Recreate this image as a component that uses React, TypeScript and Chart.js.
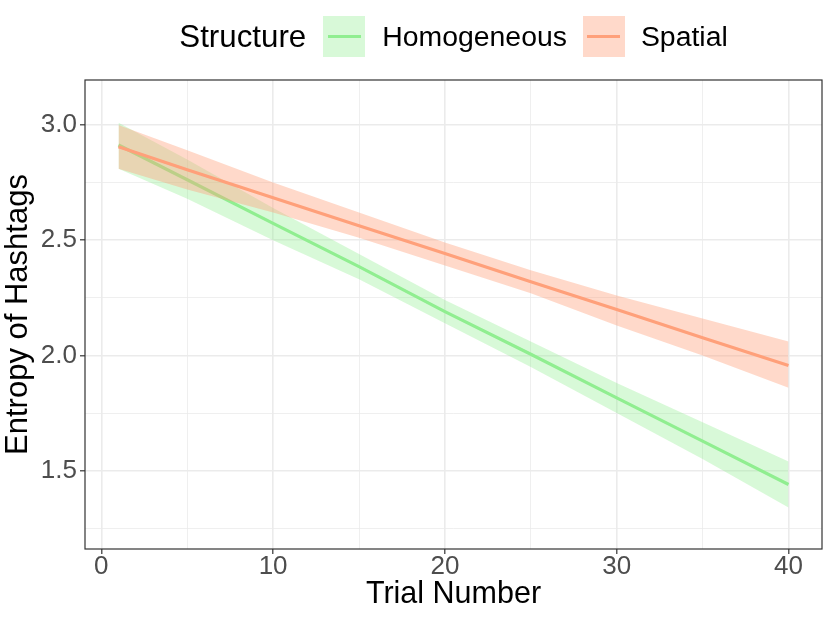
import { Chart, registerables } from "chart.js"
import { useEffect, useRef } from "react"

Chart.register(...registerables)

// values
const trialNumbers = [1, 5, 10, 15, 20, 25, 30, 35, 40]

const homogeneousFit = [2.913, 2.762, 2.573, 2.385, 2.19, 2.005, 1.816, 1.628, 1.44]
const homogeneousLower = [2.81, 2.68, 2.5, 2.33, 2.14, 1.95, 1.75, 1.55, 1.34]
const homogeneousUpper = [3.01, 2.85, 2.64, 2.44, 2.24, 2.06, 1.88, 1.71, 1.54]

const spatialFit = [2.905, 2.806, 2.684, 2.563, 2.442, 2.32, 2.199, 2.077, 1.956]
const spatialLower = [2.81, 2.72, 2.62, 2.51, 2.39, 2.27, 2.13, 2.0, 1.86]
const spatialUpper = [3.0, 2.89, 2.75, 2.62, 2.49, 2.37, 2.26, 2.16, 2.06]

const xTickValues = [0, 5, 10, 15, 20, 25, 30, 35, 40]
const xTickLabels = ["0", "", "10", "", "20", "", "30", "", "40"]
const yTickValues = [1.25, 1.5, 1.75, 2.0, 2.25, 2.5, 2.75, 3.0]
const yTickLabels = ["", "1.5", "", "2.0", "", "2.5", "", "3.0"]

const GREEN = "rgb(144, 238, 144)"
const GREEN_FILL = "rgba(144, 238, 144, 0.35)"
const SALMON = "rgb(255, 160, 122)"
const SALMON_FILL = "rgba(255, 160, 122, 0.4)"
const FONT = "'Liberation Sans', Arial, sans-serif"

const toPoints = (ys: number[]) => trialNumbers.map((x, i) => ({ x, y: ys[i] }))

const panelBorder = {
	id: "panelBorder",
	afterDatasetsDraw(chart: Chart) {
		const { ctx, chartArea } = chart
		ctx.save()
		ctx.strokeStyle = "#333333"
		ctx.lineWidth = 1.2
		ctx.strokeRect(chartArea.left, chartArea.top, chartArea.right - chartArea.left, chartArea.bottom - chartArea.top)
		ctx.restore()
	},
}

function LegendKey({ fill, line }: { fill: string; line: string }) {
	return (
		<div
			style={{
				width: 42,
				height: 41,
				background: fill,
				display: "flex",
				alignItems: "center",
				justifyContent: "center",
			}}
		>
			<div style={{ width: 33, height: 3, background: line }} />
		</div>
	)
}

export default function App() {
	const chartRef = useRef<HTMLCanvasElement>(null)
	const chartInstance = useRef<Chart | null>(null)

	useEffect(() => {
		if (!chartRef.current) return
		if (chartInstance.current) chartInstance.current.destroy()

		const ribbon = (ys: number[], color: string, target?: number) => ({
			data: toPoints(ys),
			borderWidth: 0,
			pointRadius: 0,
			backgroundColor: color,
			fill: target === undefined ? false : target,
		})

		const line = (ys: number[], color: string) => ({
			data: toPoints(ys),
			borderColor: color,
			borderWidth: 3.2,
			pointRadius: 0,
			fill: false,
		})

		// first dataset is drawn on top, so the order is reversed from ggplot's
		chartInstance.current = new Chart(chartRef.current, {
			type: "line",
			data: {
				datasets: [
					line(spatialFit, SALMON),
					ribbon(spatialUpper, SALMON_FILL, 2),
					ribbon(spatialLower, SALMON_FILL),
					line(homogeneousFit, GREEN),
					ribbon(homogeneousUpper, GREEN_FILL, 5),
					ribbon(homogeneousLower, GREEN_FILL),
				] as any,
			},
			options: {
				animation: false,
				responsive: false,
				layout: { padding: { top: 80, right: 8, left: 0, bottom: 0 } },
				plugins: {
					legend: { display: false },
					tooltip: { enabled: false },
				},
				scales: {
					x: {
						type: "linear",
						min: -0.95,
						max: 41.95,
						afterBuildTicks: (scale: any) => {
							scale.ticks = xTickValues.map((value) => ({ value }))
						},
						afterFit: (scale: any) => {
							scale.height = 74
						},
						ticks: {
							callback: (_v: any, i: number) => xTickLabels[i],
							color: "#4D4D4D",
							font: { family: FONT, size: 26, lineHeight: 1 },
							padding: 0,
							maxRotation: 0,
							autoSkip: false,
						},
						grid: {
							color: "#EBEBEB",
							lineWidth: (c: any) => (xTickLabels[c.index] ? 1.6 : 0.8),
							tickColor: (c: any) => (xTickLabels[c.index] ? "#333333" : "rgba(0,0,0,0)"),
							tickLength: 5,
							tickWidth: 1.2,
						},
						border: { display: false },
						title: {
							display: true,
							text: "Trial Number",
							color: "#000000",
							font: { family: FONT, size: 30.5, lineHeight: 1 },
							padding: { top: 0, bottom: 13 },
						},
					},
					y: {
						type: "linear",
						min: 1.16,
						max: 3.195,
						afterBuildTicks: (scale: any) => {
							scale.ticks = yTickValues.map((value) => ({ value }))
						},
						afterFit: (scale: any) => {
							scale.width = 85
						},
						ticks: {
							callback: (_v: any, i: number) => yTickLabels[i],
							color: "#4D4D4D",
							font: { family: FONT, size: 26, lineHeight: 1 },
							padding: 3,
							autoSkip: false,
						},
						grid: {
							color: "#EBEBEB",
							lineWidth: (c: any) => (yTickLabels[c.index] ? 1.6 : 0.8),
							tickColor: (c: any) => (yTickLabels[c.index] ? "#333333" : "rgba(0,0,0,0)"),
							tickLength: 5,
							tickWidth: 1.2,
						},
						border: { display: false },
						title: {
							display: true,
							text: "Entropy of Hashtags",
							color: "#000000",
							font: { family: FONT, size: 31, lineHeight: 1 },
							padding: { top: 3, bottom: 0 },
						},
					},
				},
			},
			plugins: [panelBorder],
		})

		return () => {
			if (chartInstance.current) {
				chartInstance.current.destroy()
				chartInstance.current = null
			}
		}
	}, [])

	return (
		<div style={{ position: "absolute", left: 0, top: 0, width: 830, height: 623, background: "#fff" }}>
			<canvas ref={chartRef} width={830} height={623} style={{ position: "absolute", left: 0, top: 0 }} />
			<div
				style={{
					position: "absolute",
					left: 85,
					width: 737,
					top: 16,
					height: 41,
					display: "flex",
					alignItems: "center",
					justifyContent: "center",
					fontFamily: FONT,
					color: "#000",
					lineHeight: 1,
					whiteSpace: "nowrap",
				}}
			>
				<span style={{ fontSize: 31.3, marginRight: 17 }}>Structure</span>
				<LegendKey fill={GREEN_FILL} line={GREEN} />
				<span style={{ fontSize: 28.4, marginLeft: 17, marginRight: 16 }}>Homogeneous</span>
				<LegendKey fill={SALMON_FILL} line={SALMON} />
				<span style={{ fontSize: 28.4, marginLeft: 16 }}>Spatial</span>
			</div>
		</div>
	)
}
